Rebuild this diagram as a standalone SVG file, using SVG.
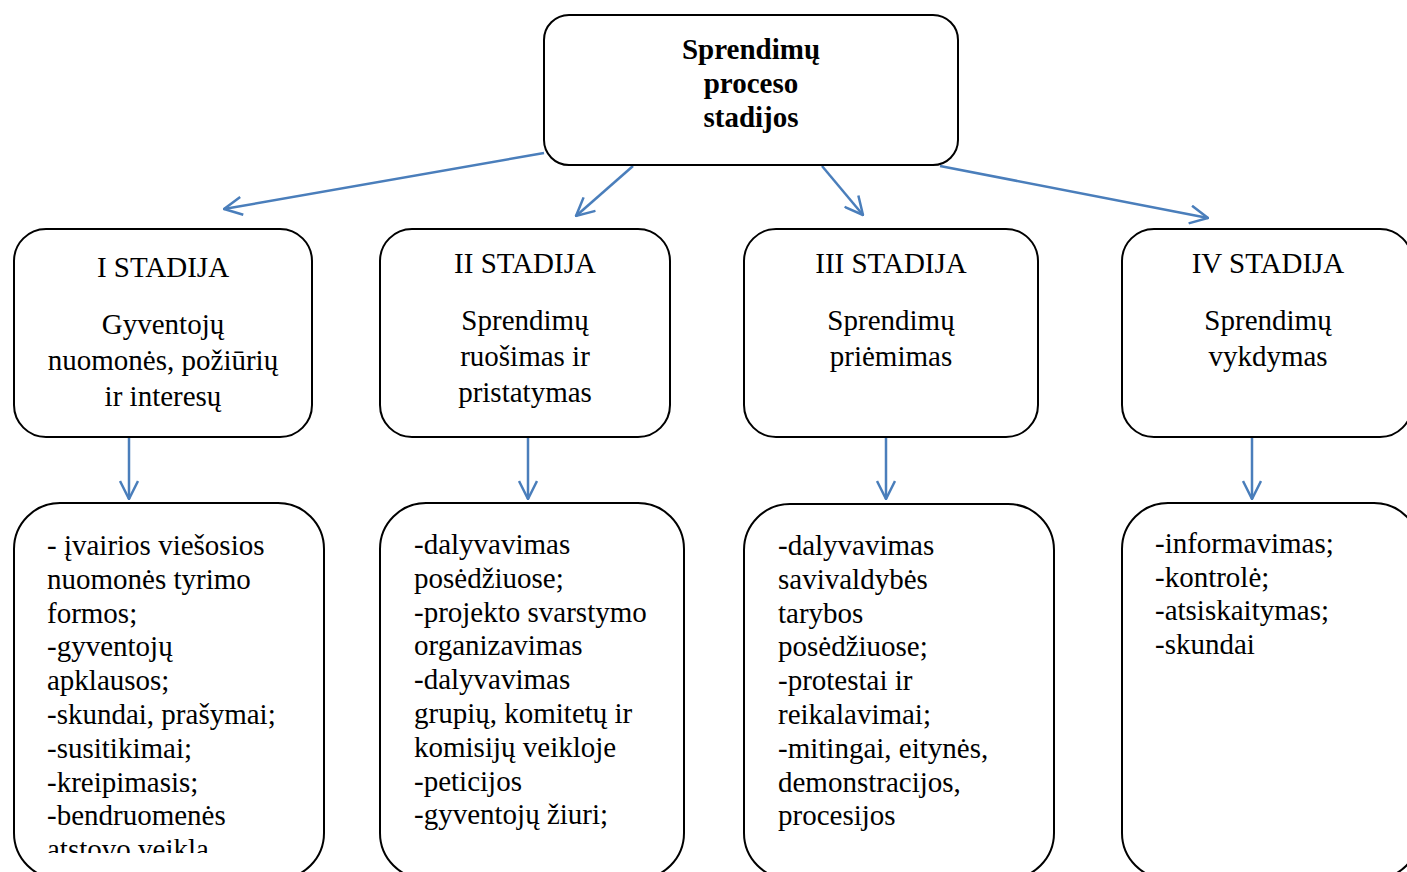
<svg xmlns="http://www.w3.org/2000/svg" width="1407" height="872" viewBox="0 0 1407 872">
<style>
.box{fill:#fff;stroke:#000;stroke-width:2}
.t{font-family:"Liberation Serif","Times New Roman",serif;font-size:29px;fill:#000}
.c{text-anchor:middle}
.b{font-weight:bold}
.conn{stroke:#4A7EBB;stroke-width:2.5;fill:none;marker-end:url(#arr)}
</style>
<defs>
<marker id="arr" viewBox="0 0 20 20" refX="19" refY="10" markerWidth="20" markerHeight="20" markerUnits="userSpaceOnUse" orient="auto">
<path d="M1,1 L19,10 L1,19" fill="none" stroke="#4A7EBB" stroke-width="2.5"/>
</marker>
<clipPath id="clip1"><rect x="0" y="490" width="340" height="363"/></clipPath>
</defs>
<rect width="1407" height="872" fill="#fff"/>
<g id="connectors">
<line class="conn" x1="544" y1="153" x2="224" y2="209"/>
<line class="conn" x1="633" y1="166" x2="576" y2="216"/>
<line class="conn" x1="822" y1="166" x2="863" y2="215"/>
<line class="conn" x1="940" y1="166" x2="1208" y2="218"/>
<line class="conn" x1="129" y1="437" x2="129" y2="499"/>
<line class="conn" x1="528" y1="437" x2="528" y2="499"/>
<line class="conn" x1="886" y1="437" x2="886" y2="499"/>
<line class="conn" x1="1252" y1="437" x2="1252" y2="499"/>
</g>
<g id="root">
<rect class="box" x="544" y="15" width="414" height="150" rx="25"/>
<text class="t c b" x="751" y="59">Sprendimų</text>
<text class="t c b" x="751" y="93">proceso</text>
<text class="t c b" x="751" y="127">stadijos</text>
</g>
<g id="stage1">
<rect class="box" x="14" y="229" width="298" height="208" rx="32"/>
<text class="t c" x="163" y="277">I STADIJA</text>
<text class="t c" x="163" y="334">Gyventojų</text>
<text class="t c" x="163" y="370">nuomonės, požiūrių</text>
<text class="t c" x="163" y="406">ir interesų</text>
</g>
<g id="stage2">
<rect class="box" x="380" y="229" width="290" height="208" rx="32"/>
<text class="t c" x="525" y="273">II STADIJA</text>
<text class="t c" x="525" y="330">Sprendimų</text>
<text class="t c" x="525" y="366">ruošimas ir</text>
<text class="t c" x="525" y="402">pristatymas</text>
</g>
<g id="stage3">
<rect class="box" x="744" y="229" width="294" height="208" rx="32"/>
<text class="t c" x="891" y="273">III STADIJA</text>
<text class="t c" x="891" y="330">Sprendimų</text>
<text class="t c" x="891" y="366">priėmimas</text>
</g>
<g id="stage4">
<rect class="box" x="1122" y="229" width="290" height="208" rx="32"/>
<text class="t c" x="1268" y="273">IV STADIJA</text>
<text class="t c" x="1268" y="330">Sprendimų</text>
<text class="t c" x="1268" y="366">vykdymas</text>
</g>
<g id="list1">
<rect class="box" x="14" y="503" width="310" height="376" rx="46"/>
<g clip-path="url(#clip1)">
<text class="t" x="47" y="555">- įvairios viešosios</text>
<text class="t" x="47" y="589">nuomonės tyrimo</text>
<text class="t" x="47" y="623">formos;</text>
<text class="t" x="47" y="656">-gyventojų</text>
<text class="t" x="47" y="690">apklausos;</text>
<text class="t" x="47" y="724">-skundai, prašymai;</text>
<text class="t" x="47" y="758">-susitikimai;</text>
<text class="t" x="47" y="792">-kreipimasis;</text>
<text class="t" x="47" y="825">-bendruomenės</text>
<text class="t" x="47" y="859">atstovo veikla</text>
</g>
</g>
<g id="list2">
<rect class="box" x="380" y="503" width="304" height="376" rx="46"/>
<text class="t" x="414" y="554">-dalyvavimas</text>
<text class="t" x="414" y="588">posėdžiuose;</text>
<text class="t" x="414" y="622">-projekto svarstymo</text>
<text class="t" x="414" y="655">organizavimas</text>
<text class="t" x="414" y="689">-dalyvavimas</text>
<text class="t" x="414" y="723">grupių, komitetų ir</text>
<text class="t" x="414" y="757">komisijų veikloje</text>
<text class="t" x="414" y="791">-peticijos</text>
<text class="t" x="414" y="824">-gyventojų žiuri;</text>
</g>
<g id="list3">
<rect class="box" x="744" y="504" width="310" height="375" rx="46"/>
<text class="t" x="778" y="555">-dalyvavimas</text>
<text class="t" x="778" y="589">savivaldybės</text>
<text class="t" x="778" y="623">tarybos</text>
<text class="t" x="778" y="656">posėdžiuose;</text>
<text class="t" x="778" y="690">-protestai ir</text>
<text class="t" x="778" y="724">reikalavimai;</text>
<text class="t" x="778" y="758">-mitingai, eitynės,</text>
<text class="t" x="778" y="792">demonstracijos,</text>
<text class="t" x="778" y="825">procesijos</text>
</g>
<g id="list4">
<rect class="box" x="1122" y="503" width="298" height="376" rx="46"/>
<text class="t" x="1155" y="553">-informavimas;</text>
<text class="t" x="1155" y="587">-kontrolė;</text>
<text class="t" x="1155" y="620">-atsiskaitymas;</text>
<text class="t" x="1155" y="654">-skundai</text>
</g>
</svg>
